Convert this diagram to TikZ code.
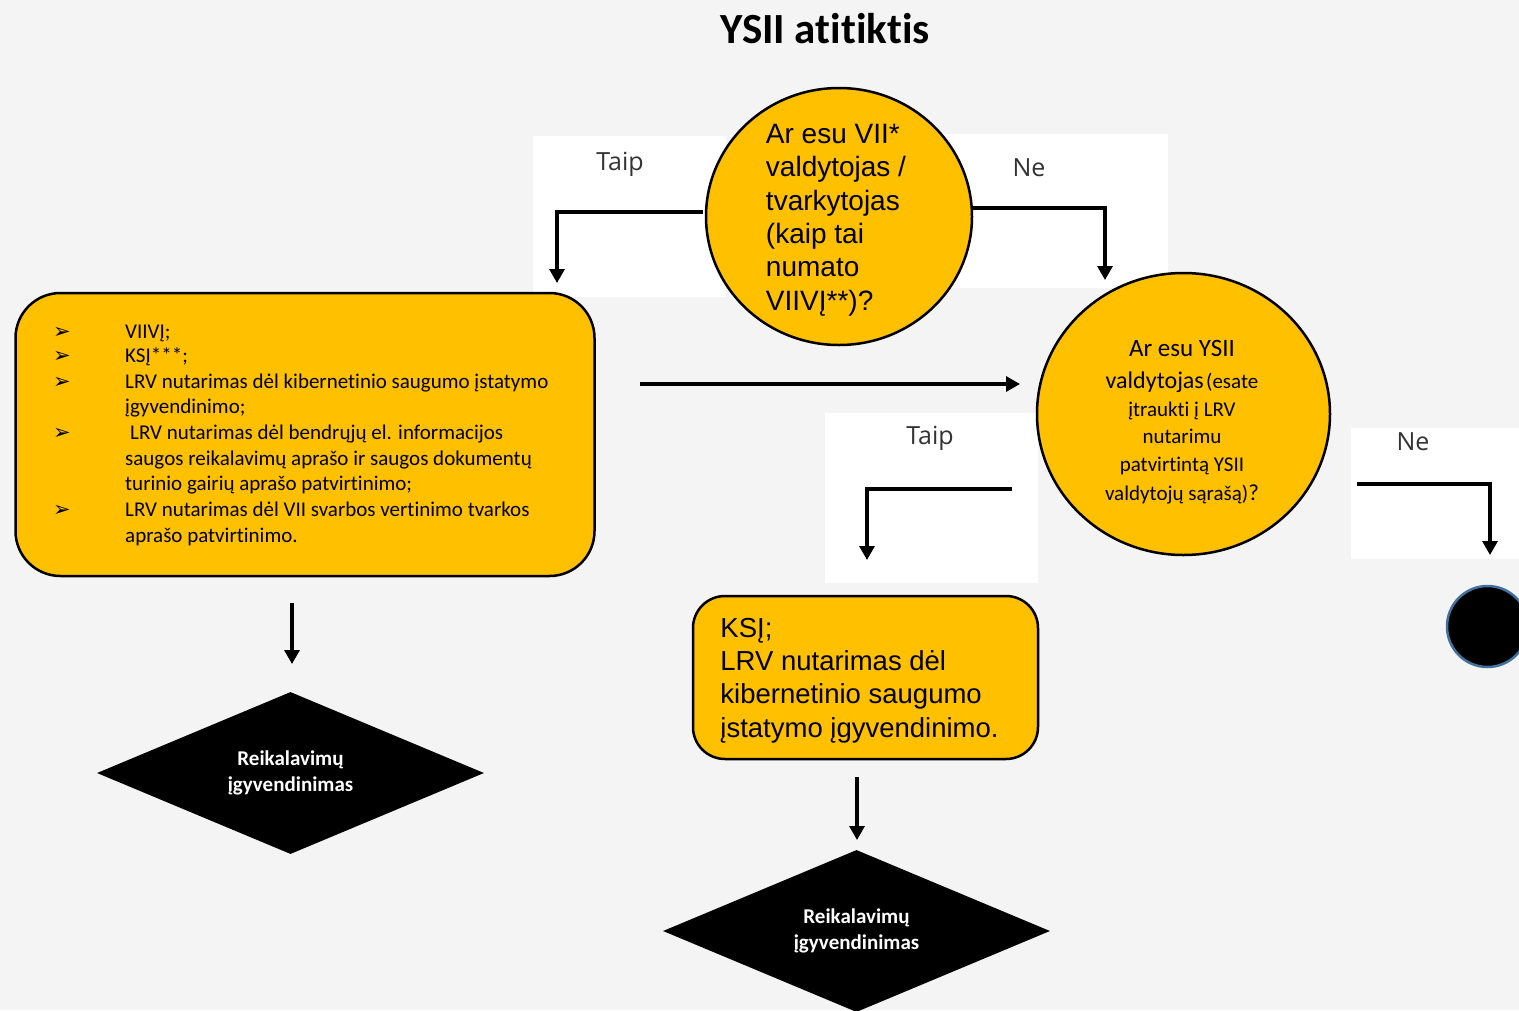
\documentclass[tikz,border=0pt]{standalone}
\usepackage{fontspec}
\setmainfont{Carlito}[Ligatures=NoCommon]
\newfontfamily\arialf{Liberation Sans}
\newfontfamily\labelf{Open Sans}
\newfontfamily\dejavu{DejaVu Sans}
\usetikzlibrary{shapes.geometric,arrows.meta,calc}
\definecolor{bg}{HTML}{F4F4F4}
\definecolor{gold}{HTML}{FFC000}
\definecolor{lblgrey}{HTML}{333333}
\definecolor{ringblue}{HTML}{41719C}
\begin{document}
\begin{tikzpicture}[x=1pt,y=-1pt,
  arr/.style={line width=3.2pt,-{Triangle[width=15pt,length=14pt]}},
  whitepad/.style={fill=white},
  lbl/.style={font=\labelf\fontsize{25}{30}\selectfont, text=lblgrey, inner sep=0, anchor=base},
  goldshape/.style={draw=black, fill=gold, line width=2.5pt, inner sep=0},
  li/.style={font=\fontsize{21}{25.5}\selectfont, inner sep=0, anchor=base west},
  bul/.style={font=\dejavu\fontsize{21}{24}\selectfont, inner sep=0, anchor=base west},
  rc/.style={inner sep=0, anchor=base},
  dia/.style={diamond, fill=black, shape aspect=2.4, minimum width=387pt, minimum height=162pt, inner sep=0, text=white, align=center, font=\bfseries\fontsize{21}{26}\selectfont}
]
\useasboundingbox (0,0) rectangle (1519,1010);
\fill[bg] (0,0) rectangle (1519,1010);

% title
\node[inner sep=0, anchor=base, font=\bfseries\fontsize{43}{50}\selectfont] (title) at (825,43) {YSII atitiktis};

% white pads behind branch arrows
\fill[whitepad] (533,136) rectangle (726,297);
\fill[whitepad] (941,134) rectangle (1168,288);
\fill[whitepad] (825,413) rectangle (1038,583);
\fill[whitepad] (1351,428) rectangle (1519,559);

% branch labels
\node[lbl] (taip1) at (620,170) {Taip};
\node[lbl] (ne1) at (1029,176) {Ne};
\node[lbl] (taip2) at (930,444) {Taip};
\node[lbl] (ne2) at (1413,450) {Ne};

% branch arrows
\coordinate (t1s) at (703,212); \coordinate (t1e) at (557,283);
\coordinate (n1s) at (970,208); \coordinate (n1e) at (1105,280);
\coordinate (t2s) at (1012,489); \coordinate (t2e) at (867,560);
\coordinate (n2s) at (1357,484); \coordinate (n2e) at (1490,555);
\draw[arr] (t1s) -| (t1e);
\draw[arr] (n1s) -| (n1e);
\draw[arr] (t2s) -| (t2e);
\draw[arr] (n2s) -| (n2e);

% top question
\node[goldshape, ellipse, minimum width=266pt, minimum height=257pt] (q1) at (839,216.5) {};
\node[inner sep=0, align=left, font=\arialf\fontsize{28}{33.4}\selectfont] (q1t) at (836,220) {Ar esu VII*\\valdytojas /\\tvarkytojas\\(kaip tai\\numato\\VIIVĮ**)?};

% left box
\node[goldshape, rounded corners=45pt, minimum width=579pt, minimum height=283pt] (lb) at (305,434.5) {};
\node[bul] (b1) at (53,338) {➢};
\node[bul] (b2) at (53,362) {➢};
\node[bul] (b3) at (53,388) {➢};
\node[bul] (b4) at (53,439) {➢};
\node[bul] (b5) at (53,516) {➢};
\node[li] (l1) at (125,338) {VIIVĮ;};
\node[li] (l2) at (125,362) {KSĮ***;};
\node[li] (l3) at (125,388) {LRV nutarimas dėl kibernetinio saugumo įstatymo};
\node[li] (l4) at (125,413) {įgyvendinimo;};
\node[li] (l5) at (130,439) {LRV nutarimas dėl bendrųjų el. informacijos};
\node[li] (l6) at (125,465) {saugos reikalavimų aprašo ir saugos dokumentų};
\node[li] (l7) at (125,490) {turinio gairių aprašo patvirtinimo;};
\node[li] (l8) at (125,516) {LRV nutarimas dėl VII svarbos vertinimo tvarkos};
\node[li] (l9) at (125,542) {aprašo patvirtinimo.};

% horizontal arrow
\coordinate (h1) at (640,384); \coordinate (h2) at (1020,384);
\draw[arr] (h1) -- (h2);

% right question
\node[goldshape, ellipse, minimum width=293pt, minimum height=282pt] (q2) at (1183.5,414) {};
\node[rc, font=\fontsize{25}{30}\selectfont] (r1) at (1182,356) {Ar esu YSII};
\node[rc] (r2) at (1182,388) {{\fontsize{24}{28}\selectfont valdytojas} {\fontsize{21}{25}\selectfont (esate}};
\node[rc, font=\fontsize{21}{25}\selectfont] (r3) at (1182,416) {įtraukti į LRV};
\node[rc, font=\fontsize{21}{25}\selectfont] (r4) at (1182,443) {nutarimu};
\node[rc, font=\fontsize{21}{25}\selectfont] (r5) at (1182,471) {patvirtintą YSII};
\node[rc, font=\fontsize{21}{25}\selectfont] (r6) at (1182,500) {valdytojų sąrašą)\fontsize{23}{25}\selectfont ?};

% end circle
\node[circle, draw=ringblue, fill=black, line width=2.5pt, minimum size=81pt, inner sep=0] (endc) at (1487.5,626.5) {};

% middle box
\node[goldshape, rounded corners=32pt, minimum width=345pt, minimum height=163pt] (mb) at (865.5,677.5) {};
\node[inner sep=0, align=left, font=\arialf\fontsize{27.5}{33.4}\selectfont] (mbt) at (859.5,680.5) {KSĮ;\\LRV nutarimas dėl\\kibernetinio saugumo\\įstatymo įgyvendinimo.};

% down arrows
\coordinate (d1s) at (292,603); \coordinate (d1e) at (292,664);
\coordinate (d2s) at (857,777); \coordinate (d2e) at (857,840);
\draw[arr] (d1s) -- (d1e);
\draw[arr] (d2s) -- (d2e);

% diamonds
\node[dia] (dm1) at (290.5,773) {Reikalavimų\\įgyvendinimas};
\node[dia] (dm2) at (856.5,931) {Reikalavimų\\įgyvendinimas};
\end{tikzpicture}
\end{document}
